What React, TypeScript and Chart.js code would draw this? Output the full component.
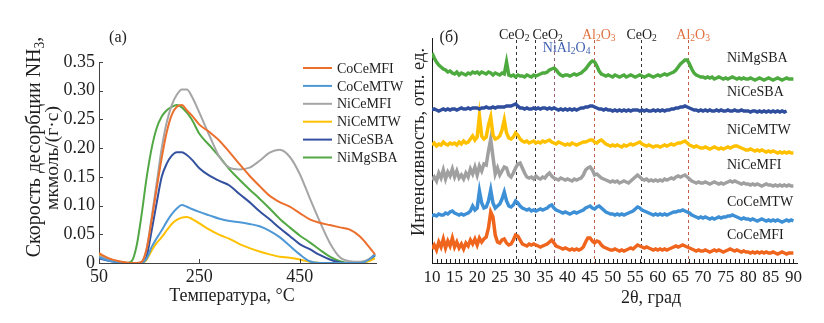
import React, { useEffect, useRef } from 'react';
import { Chart, registerables } from 'chart.js';

Chart.register(...registerables);

const SERIF = '"Liberation Serif", "Times New Roman", serif';
const INK = '#1e1e1e';
const AXIS = '#404040';

// ---------- Panel (a): NH3 TPD ----------
const TPD_TEMPS = [50, 70, 90, 105, 115, 125, 135, 145, 155, 165, 175, 185, 195, 205, 215, 225, 235, 250, 270, 290, 310, 330, 350, 370, 390, 410, 430, 450, 470, 490, 510, 530, 550, 570, 590, 600];
const TPD_COCEMFI = [0.017, 0.008, 0.003, 0.001, 0, 0, 0.002, 0.025, 0.075, 0.13, 0.183, 0.228, 0.258, 0.272, 0.275, 0.266, 0.257, 0.241, 0.228, 0.213, 0.193, 0.172, 0.152, 0.134, 0.117, 0.106, 0.098, 0.087, 0.076, 0.070, 0.066, 0.062, 0.058, 0.046, 0.026, 0.015];
const TPD_COCEMTW = [0.010, 0.004, 0.001, 0, 0, 0, 0, 0.008, 0.028, 0.043, 0.057, 0.072, 0.085, 0.095, 0.101, 0.098, 0.094, 0.089, 0.083, 0.077, 0.073, 0.071, 0.068, 0.064, 0.056, 0.045, 0.030, 0.015, 0.003, 0, 0, 0, 0, 0, 0.007, 0.015];
const TPD_NICEMFI = [0.012, 0.006, 0.002, 0, 0, 0, 0.002, 0.025, 0.08, 0.14, 0.20, 0.245, 0.275, 0.293, 0.302, 0.302, 0.29, 0.262, 0.222, 0.185, 0.166, 0.163, 0.166, 0.178, 0.192, 0.197, 0.185, 0.155, 0.113, 0.072, 0.035, 0.010, 0.003, 0.002, 0.008, 0.016];
const TPD_NICEMTW = [0.015, 0.007, 0.002, 0, 0, 0, 0, 0.006, 0.022, 0.035, 0.045, 0.057, 0.068, 0.075, 0.079, 0.080, 0.077, 0.069, 0.058, 0.049, 0.042, 0.033, 0.026, 0.020, 0.015, 0.011, 0.009, 0.006, 0.002, 0, 0, 0, 0, 0.001, 0.004, 0.008];
const TPD_NICESBA = [0.008, 0.004, 0.001, 0, 0, 0, 0, 0.012, 0.057, 0.105, 0.15, 0.173, 0.187, 0.193, 0.193, 0.188, 0.18, 0.165, 0.152, 0.143, 0.135, 0.12, 0.106, 0.09, 0.076, 0.061, 0.047, 0.033, 0.024, 0.014, 0.006, 0.001, 0, 0, 0.006, 0.014];
const TPD_NIMGSBA = [0.010, 0.005, 0.002, 0, 0.003, 0.03, 0.085, 0.149, 0.20, 0.235, 0.255, 0.266, 0.272, 0.275, 0.271, 0.262, 0.250, 0.225, 0.205, 0.185, 0.163, 0.145, 0.128, 0.112, 0.095, 0.077, 0.062, 0.048, 0.036, 0.023, 0.011, 0.003, 0, 0, 0.006, 0.013];
const TPD_NAMES = ['CoCeMFI', 'CoCeMTW', 'NiCeMFI', 'NiCeMTW', 'NiCeSBA', 'NiMgSBA'];
const TPD_SERIES = [TPD_COCEMFI, TPD_COCEMTW, TPD_NICEMFI, TPD_NICEMTW, TPD_NICESBA, TPD_NIMGSBA];
const TPD_COLORS = ['#EC6F2D', '#4F98D6', '#A5A5A5', '#FFC000', '#34519F', '#52A844'];
const TPD_X_TICKS = [50, 250, 450];
const TPD_Y_TICKS = [0, 0.05, 0.1, 0.15, 0.2, 0.25, 0.3, 0.35];

// ---------- Panel (б): XRD ----------
const XRD_START = 10;
const XRD_STEP = 0.5;
const XRD_NIMGSBA = [
  210, 205, 201, 198, 196, 194, 193, 191, 192, 190,
  189, 191, 188, 190, 189, 188, 190, 189, 191, 190,
  191, 189, 191, 190, 189, 191, 190, 188, 190, 189,
  188, 190, 189, 201, 188, 187, 188, 186, 188, 187,
  187, 186, 188, 187, 186, 188, 187, 188, 189, 190,
  190, 191, 193, 194, 195, 193, 190, 188, 187, 188,
  188, 187, 188, 189, 188, 189, 190, 192, 194, 197,
  200, 202, 201, 197, 192, 189, 188, 187, 188, 187,
  186, 188, 187, 186, 187, 188, 186, 187, 188, 187,
  186, 187, 188, 187, 186, 187, 188, 187, 186, 187,
  188, 187, 188, 189, 188, 189, 190, 191, 193, 196,
  199, 201, 203, 203, 199, 194, 190, 188, 187, 186,
  186, 185, 186, 185, 186, 184, 185, 186, 185, 184,
  185, 184, 185, 186, 185, 184, 185, 184, 185, 184,
  184, 185, 184, 183, 184, 185, 184, 183, 184, 185,
  184, 183, 184, 185, 184, 183, 184, 185, 184, 184,
  184];
const XRD_NICESBA = [
  153, 154, 153, 152, 153, 154, 153, 154, 153, 154,
  154, 153, 154, 155, 154, 154, 155, 154, 155, 155,
  155, 154, 155, 155, 156, 155, 155, 156, 155, 156,
  156, 156, 156, 157, 157, 157, 158, 159, 157, 155,
  155, 154, 155, 154, 154, 155, 154, 155, 154, 155,
  155, 154, 155, 154, 155, 154, 153, 154, 153, 154,
  153, 154, 153, 154, 153, 154, 155, 155, 156, 156,
  157, 157, 156, 155, 154, 154, 153, 154, 153, 153,
  152, 153, 152, 153, 152, 153, 152, 153, 152, 153,
  153, 153, 152, 153, 152, 153, 152, 152, 153, 152,
  153, 152, 153, 152, 153, 153, 154, 154, 155, 155,
  156, 156, 157, 156, 155, 154, 153, 153, 152, 153,
  152, 153, 152, 153, 152, 152, 153, 152, 153, 152,
  152, 153, 152, 152, 153, 152, 152, 153, 152, 152,
  152, 151, 152, 152, 151, 152, 151, 152, 151, 152,
  151, 152, 151, 152, 151, 152, 151, 152, null, null,
  null];
const XRD_NICEMTW = [
  118, 120, 117, 119, 118, 121, 119, 118, 120, 119,
  120, 118, 121, 119, 122, 120, 121, 124, 127, 123,
  126, 147, 127, 124, 126, 138, 146, 128, 124, 125,
  127, 133, 143, 130, 125, 124, 126, 130, 128, 124,
  122, 121, 122, 120, 121, 122, 120, 121, 120, 122,
  121, 122, 123, 121, 120, 119, 121, 120, 119, 118,
  119, 118, 120, 119, 118, 119, 120, 121, 121, 122,
  123, 123, 121, 120, 122, 123, 121, 119, 118, 117,
  118, 117, 118, 117, 116, 118, 117, 118, 119, 118,
  119, 120, 121, 119, 118, 117, 118, 117, 116, 117,
  117, 116, 117, 118, 117, 118, 119, 118, 119, 120,
  120, 121, 122, 120, 118, 117, 116, 117, 116, 115,
  115, 116, 115, 114, 115, 116, 115, 114, 115, 114,
  115, 116, 115, 116, 117, 117, 116, 115, 114, 113,
  113, 114, 113, 112, 113, 112, 113, 112, 111, 112,
  111, 112, 111, 110, 111, 110, 111, 110, 111, 110,
  110];
const XRD_NICEMFI = [
  83, 86, 82, 90, 85, 93, 84, 91, 87, 94,
  86, 92, 85, 88, 84, 90, 86, 94, 89, 96,
  88, 97, 92, 99, 98, 112, 124, 106, 89, 95,
  88, 92, 96, 95, 88, 86, 90, 95, 99, 100,
  95, 90, 86, 85, 86, 84, 87, 85, 84, 86,
  85, 88, 90, 87, 85, 84, 83, 85, 84, 83,
  84, 83, 82, 84, 83, 84, 85, 88, 93, 95,
  96, 93, 88, 89, 87, 85, 84, 83, 82, 81,
  82, 81, 82, 80, 81, 82, 81, 80, 82, 84,
  86, 88, 86, 84, 83, 84, 82, 83, 82, 83,
  82, 83, 82, 84, 83, 84, 85, 84, 86, 87,
  86, 87, 88, 86, 84, 82, 81, 80, 81, 80,
  80, 81, 80, 79, 80, 81, 80, 79, 80, 79,
  80, 81, 82, 81, 82, 81, 80, 79, 80, 79,
  79, 78, 79, 78, 79, 78, 77, 78, 79, 78,
  78, 77, 78, 77, 78, 77, 78, 77, 78, 77,
  77];
const XRD_COCEMTW = [
  47, 48, 47, 49, 48, 48, 50, 49, 51, 52,
  50, 49, 48, 49, 48, 49, 50, 52, 57, 53,
  55, 72, 60, 55, 56, 62, 73, 60, 55, 57,
  59, 64, 71, 62, 57, 56, 58, 62, 60, 57,
  55, 54, 53, 54, 52, 53, 52, 53, 54, 53,
  54, 55, 57, 58, 55, 53, 52, 51, 50, 51,
  50, 49, 50, 51, 50, 51, 52, 53, 55, 56,
  57, 55, 54, 56, 57, 55, 53, 51, 50, 49,
  49, 48, 49, 48, 49, 48, 49, 50, 51, 52,
  54, 56, 55, 53, 52, 51, 50, 49, 48, 49,
  48, 49, 48, 49, 48, 49, 50, 51, 51, 52,
  52, 53, 52, 51, 50, 48, 47, 46, 45, 46,
  45, 46, 45, 44, 45, 44, 45, 46, 45, 46,
  46, 47, 47, 48, 47, 46, 45, 44, 45, 44,
  44, 43, 44, 43, 42, 43, 44, 43, 42, 43,
  42, 43, 42, 43, 42, 41, 42, 43, 42, 43,
  42];
const XRD_COCEMFI = [
  14, 18, 13, 21, 16, 24, 15, 22, 17, 25,
  16, 21, 15, 19, 14, 20, 17, 23, 19, 24,
  18, 25, 21, 24, 26, 35, 51, 46, 28, 21,
  20, 23, 24, 20, 18, 19, 23, 28, 27, 23,
  19, 18, 17, 19, 18, 19, 18, 17, 16, 17,
  18, 19, 21, 23, 20, 17, 16, 15, 14, 15,
  14, 13, 14, 13, 14, 13, 14, 16, 21, 25,
  25, 22, 20, 22, 21, 18, 16, 15, 14, 13,
  13, 14, 13, 12, 13, 12, 13, 14, 15, 14,
  16, 18, 17, 16, 15, 16, 15, 14, 13, 14,
  13, 14, 13, 14, 13, 14, 15, 16, 17, 16,
  17, 18, 17, 16, 15, 14, 13, 12, 13, 12,
  12, 13, 12, 11, 12, 13, 12, 13, 12, 11,
  12, 13, 14, 13, 12, 13, 12, 11, 12, 11,
  11, 10, 11, 10, 11, 10, 11, 10, 11, 10,
  10, 11, 10, 9, 10, 11, 10, 9, 10, 10,
  10];
const XRD_NAMES = ['NiMgSBA', 'NiCeSBA', 'NiCeMTW', 'NiCeMFI', 'CoCeMTW', 'CoCeMFI'];
const XRD_SERIES = [XRD_NIMGSBA, XRD_NICESBA, XRD_NICEMTW, XRD_NICEMFI, XRD_COCEMTW, XRD_COCEMFI];
const XRD_COLORS = ['#4DAA3E', '#2F4E9E', '#FFC000', '#A0A0A0', '#3D8FD6', '#F0651E'];
const XRD_NAME_LEVELS = [206, 172, 134, 99, 62, 29];
const XRD_X_TICKS = [10, 15, 20, 25, 30, 35, 40, 45, 50, 55, 60, 65, 70, 75, 80, 85, 90];
const XRD_PHASE_LINES = [28.6, 32.9, 36.9, 45.8, 56.2, 66.7];
const XRD_PHASE_LINE_COLORS = ['#333333', '#333333', '#9a5c74', '#c4604a', '#333333', '#c4604a'];
const XRD_PHASE_LABELS = ['CeO2', 'CeO2', 'NiAl2O4', 'Al2O3', 'CeO2', 'Al2O3'];
const XRD_PHASE_LABEL_X = [28.2, 35.6, 39.8, 46.9, 56.4, 67.8];
const XRD_PHASE_LABEL_ROW = [0, 0, 1, 0, 0, 0];
const XRD_PHASE_LABEL_COLORS = ['#1e1e1e', '#1e1e1e', '#3f5fb0', '#e0703f', '#1e1e1e', '#e0703f'];

type Part = { t: string; sub: boolean };
function chemParts(s: string): Part[] {
  const out: Part[] = [];
  for (const ch of s) {
    const sub = ch >= '0' && ch <= '9';
    const last = out[out.length - 1];
    if (last && last.sub === sub) last.t += ch;
    else out.push({ t: ch, sub });
  }
  return out;
}
function drawRich(ctx: CanvasRenderingContext2D, parts: Part[], x: number, yMid: number, size: number, color: string, align: string) {
  const subSize = size * 0.68;
  const widths = parts.map((p) => {
    ctx.font = `${p.sub ? subSize : size}px ${SERIF}`;
    return ctx.measureText(p.t).width;
  });
  const total = widths.reduce((a, b) => a + b, 0);
  let cx = align === 'center' ? x - total / 2 : align === 'right' ? x - total : x;
  const base = yMid + size * 0.33;
  ctx.fillStyle = color;
  ctx.textAlign = 'left';
  ctx.textBaseline = 'alphabetic';
  parts.forEach((p, i) => {
    ctx.font = `${p.sub ? subSize : size}px ${SERIF}`;
    ctx.fillText(p.t, cx, base + (p.sub ? size * 0.2 : 0));
    cx += widths[i];
  });
}
function drawRotated(ctx: CanvasRenderingContext2D, parts: Part[], x: number, y: number, size: number) {
  ctx.save();
  ctx.translate(x, y);
  ctx.rotate(-Math.PI / 2);
  drawRich(ctx, parts, 0, 0, size, INK, 'center');
  ctx.restore();
}

const leftDecor = {
  id: 'leftDecor',
  afterDraw(chart: any) {
    const { ctx, chartArea, scales } = chart;
    const xs = scales.x;
    const ys = scales.y;
    ctx.save();
    ctx.strokeStyle = AXIS;
    ctx.lineWidth = 1;
    TPD_Y_TICKS.forEach((v) => {
      const y = Math.round(ys.getPixelForValue(v)) + 0.5;
      ctx.beginPath();
      ctx.moveTo(chartArea.left, y);
      ctx.lineTo(chartArea.left + 4, y);
      ctx.stroke();
    });
    TPD_X_TICKS.forEach((v) => {
      const x = Math.round(xs.getPixelForValue(v)) + 0.5;
      ctx.beginPath();
      ctx.moveTo(x, chartArea.bottom);
      ctx.lineTo(x, chartArea.bottom - 4);
      ctx.stroke();
    });
    // legend
    TPD_NAMES.forEach((name, i) => {
      const y = 68 + i * 17.9;
      ctx.strokeStyle = TPD_COLORS[i];
      ctx.lineWidth = 2;
      ctx.beginPath();
      ctx.moveTo(303, y);
      ctx.lineTo(332, y);
      ctx.stroke();
      ctx.fillStyle = INK;
      ctx.font = `14px ${SERIF}`;
      ctx.textAlign = 'left';
      ctx.textBaseline = 'middle';
      ctx.fillText(name, 337, y + 1);
    });
    // titles
    drawRich(ctx, [{ t: '(a)', sub: false }], 118, 37, 16, INK, 'center');
    drawRotated(ctx, chemParts('Скорость десорбции NH3,'), 33, 147, 20);
    drawRotated(ctx, [{ t: 'мкмоль/(г·с)', sub: false }], 52, 158, 19.5);
    drawRich(ctx, [{ t: 'Температура, °C', sub: false }], 232, 295, 18, INK, 'center');
    ctx.restore();
  },
};

const rightDecor = {
  id: 'rightDecor',
  beforeDatasetsDraw(chart: any) {
    const { ctx, chartArea, scales } = chart;
    const xs = scales.x;
    ctx.save();
    ctx.lineWidth = 1;
    ctx.setLineDash([3, 3]);
    XRD_PHASE_LINES.forEach((v, i) => {
      const x = Math.round(xs.getPixelForValue(v)) + 0.5;
      ctx.strokeStyle = XRD_PHASE_LINE_COLORS[i];
      ctx.beginPath();
      ctx.moveTo(x, chartArea.top + 2);
      ctx.lineTo(x, chartArea.bottom);
      ctx.stroke();
    });
    ctx.restore();
  },
  afterDraw(chart: any) {
    const { ctx, chartArea, scales } = chart;
    const xs = scales.x;
    const ys = scales.y;
    ctx.save();
    ctx.strokeStyle = INK;
    ctx.lineWidth = 1;
    for (let v = XRD_X_TICKS[0]; v <= XRD_X_TICKS[XRD_X_TICKS.length - 1]; v += 1) {
      const x = Math.round(xs.getPixelForValue(v)) + 0.5;
      ctx.beginPath();
      ctx.moveTo(x, chartArea.bottom);
      ctx.lineTo(x, chartArea.bottom - 4);
      ctx.stroke();
    }
    XRD_PHASE_LABELS.forEach((lab, i) => {
      const x = xs.getPixelForValue(XRD_PHASE_LABEL_X[i]);
      const y = XRD_PHASE_LABEL_ROW[i] === 0 ? 34 : 47;
      drawRich(ctx, chemParts(lab), x, y, 14, XRD_PHASE_LABEL_COLORS[i], 'center');
    });
    XRD_NAMES.forEach((name, i) => {
      drawRich(ctx, [{ t: name, sub: false }], 727, ys.getPixelForValue(XRD_NAME_LEVELS[i]), 14, INK, 'left');
    });
    drawRich(ctx, [{ t: '(б)', sub: false }], 449, 37, 16, INK, 'center');
    drawRotated(ctx, [{ t: 'Интенсивность, отн. ед.', sub: false }], 418, 142, 18.5);
    drawRich(ctx, [{ t: '2θ, град', sub: false }], 651, 297, 18, INK, 'center');
    ctx.restore();
  },
};

export default function App() {
  const leftRef = useRef<HTMLCanvasElement>(null);
  const rightRef = useRef<HTMLCanvasElement>(null);

  useEffect(() => {
    const left = new Chart(leftRef.current as HTMLCanvasElement, {
      type: 'line',
      data: {
        datasets: TPD_SERIES.map((vals, i) => ({
          label: TPD_NAMES[i],
          data: vals.map((y, j) => ({ x: TPD_TEMPS[j], y })),
          borderColor: TPD_COLORS[i],
          backgroundColor: TPD_COLORS[i],
          borderWidth: 2,
          pointRadius: 0,
          cubicInterpolationMode: 'monotone',
          fill: false,
        })),
      },
      options: {
        responsive: false,
        animation: false,
        layout: { padding: { left: 0, top: 62, right: 824 - 376, bottom: 0 } },
        plugins: { legend: { display: false }, tooltip: { enabled: false } },
        scales: {
          x: {
            type: 'linear',
            min: 50,
            max: 602,
            afterFit: (s: any) => { s.height = 60; },
            afterBuildTicks: (s: any) => { s.ticks = TPD_X_TICKS.map((v) => ({ value: v })); },
            grid: { display: false, drawTicks: false },
            border: { display: true, color: AXIS, width: 1 },
            ticks: { font: { family: SERIF, size: 18 }, color: INK, padding: 3, maxRotation: 0, autoSkip: false, callback: (v: any) => String(v) },
          },
          y: {
            min: 0,
            max: 0.35,
            afterFit: (s: any) => { s.width = 99; },
            afterBuildTicks: (s: any) => { s.ticks = TPD_Y_TICKS.map((v) => ({ value: v })); },
            grid: { display: false, drawTicks: false },
            border: { display: true, color: AXIS, width: 1 },
            ticks: { font: { family: SERIF, size: 18 }, color: INK, padding: 4, autoSkip: false, callback: (v: any) => (v === 0 ? '0' : Number(v).toFixed(2)) },
          },
        },
      },
      plugins: [leftDecor],
    } as any);

    const right = new Chart(rightRef.current as HTMLCanvasElement, {
      type: 'line',
      data: {
        datasets: XRD_SERIES.map((vals, i) => ({
          label: XRD_NAMES[i],
          data: vals.map((y, j) => ({ x: XRD_START + j * XRD_STEP, y })),
          borderColor: XRD_COLORS[i],
          backgroundColor: XRD_COLORS[i],
          borderWidth: 3.5,
          pointRadius: 0,
          tension: 0,
          spanGaps: false,
          fill: false,
        })),
      },
      options: {
        responsive: false,
        animation: false,
        layout: { padding: { left: 0, top: 38, right: 824 - 797, bottom: 0 } },
        plugins: { legend: { display: false }, tooltip: { enabled: false } },
        scales: {
          x: {
            type: 'linear',
            min: 10,
            max: 90.8,
            afterFit: (s: any) => { s.height = 60; },
            afterBuildTicks: (s: any) => { s.ticks = XRD_X_TICKS.map((v) => ({ value: v })); },
            grid: { display: false, drawTicks: false },
            border: { display: true, color: INK, width: 1 },
            ticks: { font: { family: SERIF, size: 17 }, color: INK, padding: 4, maxRotation: 0, autoSkip: false, callback: (v: any) => String(v) },
          },
          y: {
            min: 0,
            max: 225,
            afterFit: (s: any) => { s.width = 432; },
            grid: { display: false, drawTicks: false },
            border: { display: true, color: INK, width: 1 },
            ticks: { display: false },
          },
        },
      },
      plugins: [rightDecor],
    } as any);

    return () => {
      left.destroy();
      right.destroy();
    };
  }, []);

  return (
    <div style={{ position: 'absolute', left: 0, top: 0, width: 824, height: 323, background: '#ffffff' }}>
      <canvas ref={leftRef} width={824} height={323} style={{ position: 'absolute', left: 0, top: 0 }} />
      <canvas ref={rightRef} width={824} height={323} style={{ position: 'absolute', left: 0, top: 0 }} />
    </div>
  );
}
